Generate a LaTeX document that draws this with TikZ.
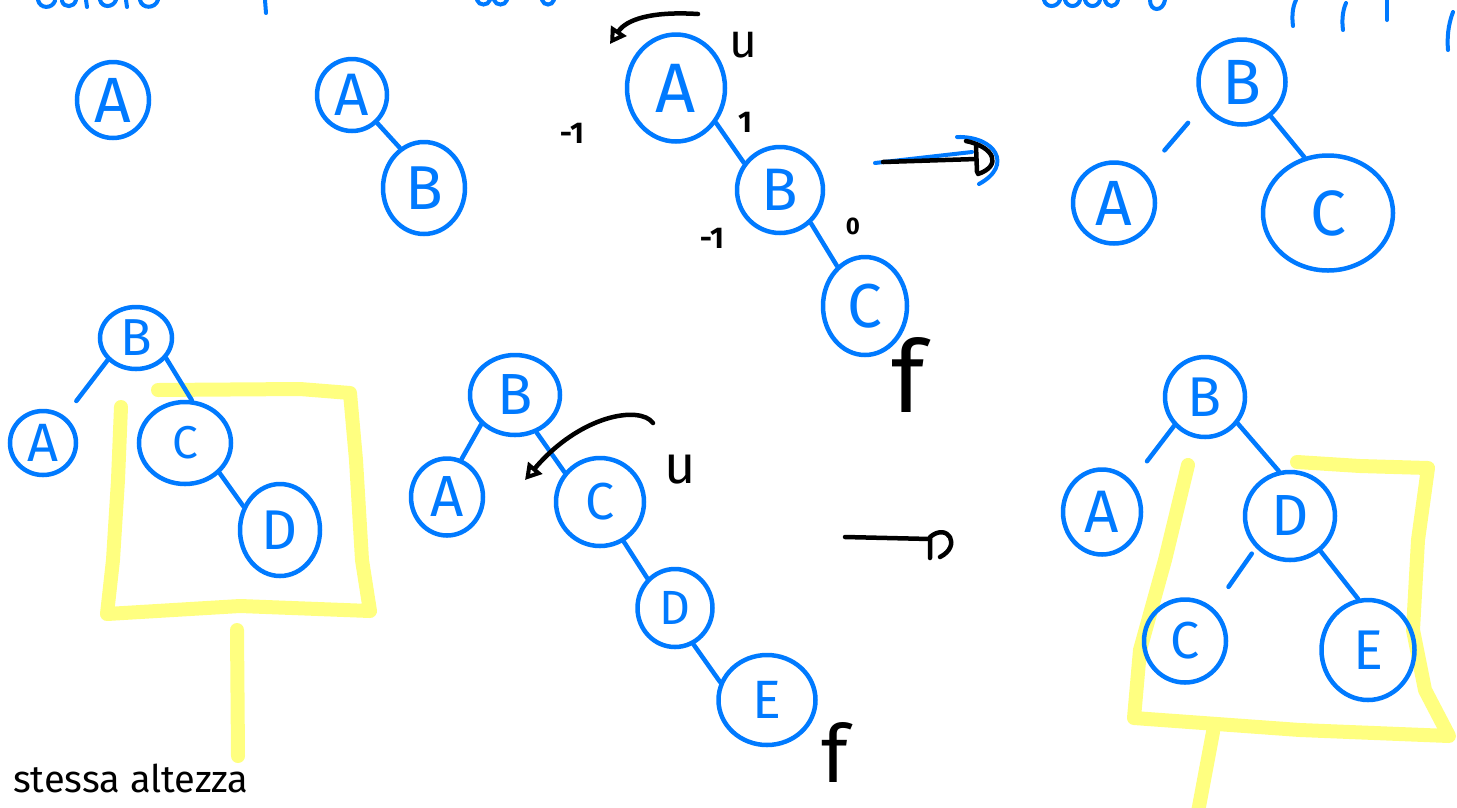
\documentclass[tikz,border=0pt]{standalone}
\usepackage{fontspec}
\setmainfont{Fira Sans}
\usetikzlibrary{shapes.geometric,arrows.meta}
\definecolor{pen}{RGB}{0,122,255}
\definecolor{marker}{RGB}{255,255,128}
\begin{document}
\begin{tikzpicture}[x=1pt,y=-1pt,
  tn/.style 2 args={ellipse,draw=pen,line width=4.5pt,text=pen,inner sep=0pt,
    minimum width=#1pt,minimum height=#2pt},
  fs/.style={font=\fontsize{#1}{#1}\selectfont},
  fsb/.style={font=\fontsize{#1}{#1}\selectfont\bfseries},
  tedge/.style={draw=pen,line width=4.5pt,line cap=round},
  ink/.style={draw=black,line width=4.5pt,line cap=round,line join=round},
  lbl/.style={text=black,inner sep=0pt},
  hl/.style={draw=marker,line width=14pt,line cap=round,line join=round},
  scrap/.style={draw=pen,line width=4pt,line cap=round},
  tip/.style={-{Triangle[open,length=16pt,width=18pt,line width=4pt]}}
]
\fill[white] (0,0) rectangle (1457,807);
\useasboundingbox (0,0) rectangle (1457,807);

% highlighter frames around the subtrees
\draw[hl] (158,390) -- (300,389) -- (350,393) -- (356,460) -- (362,560) -- (370,611)
  -- (240,606) -- (107,614) -- (113,560) -- (118,480) -- (121,407);
\draw[hl] (237,630) -- (238,756);
\draw[hl] (1297,462) -- (1360,466) -- (1428,468) -- (1418,540) -- (1413,630)
  -- (1425,690) -- (1449,736) -- (1300,730) -- (1134,718) -- (1140,650)
  -- (1165,560) -- (1188,465);
\draw[hl] (1213,732) -- (1198,812);

% heading strokes along the top edge
\draw[scrap] (38,0) .. controls (40,9) and (52,9) .. (55,1);
\draw[scrap] (62,1) .. controls (64,8) and (74,8) .. (76,0);
\draw[scrap] (86,0) -- (87,7);
\draw[scrap] (100,0) .. controls (102,8) and (113,8) .. (116,0);
\draw[scrap] (126,0) -- (127,7);
\draw[scrap] (140,0) .. controls (142,9) and (155,9) .. (158,0);
\draw[scrap] (265,0) -- (266,13);
\draw[scrap] (477,0) .. controls (479,6) and (488,6) .. (490,0);
\draw[scrap] (494,0) .. controls (496,6) and (505,6) .. (507,0);
\draw[scrap] (542,0) .. controls (544,6) and (552,6) .. (554,0);
\draw[scrap] (1044,0) .. controls (1046,8) and (1057,8) .. (1060,0);
\draw[scrap] (1065,0) .. controls (1067,8) and (1078,8) .. (1080,0);
\draw[scrap] (1085,0) .. controls (1087,8) and (1098,8) .. (1100,0);
\draw[scrap] (1105,0) .. controls (1107,8) and (1116,8) .. (1118,0);
\draw[scrap] (1150,0) .. controls (1150,12) and (1163,12) .. (1165,0);
\draw[scrap] (1296,0) .. controls (1292,8) and (1292,18) .. (1293,26);
\draw[scrap] (1346,3) .. controls (1342,12) and (1342,22) .. (1343,30);
\draw[scrap] (1387,0) -- (1387,20);
\draw[scrap] (1453,12) .. controls (1448,25) and (1447,38) .. (1448,50);

% tree nodes
\node[tn={72}{76},fs=64] (a1) at (113,100) {A};
\node[tn={70}{72},fs=60] (a2) at (352,95) {A};
\node[tn={82}{92},fs=62] (b2) at (424,188) {B};
\node[tn={98}{107},fs=70] (a3) at (676,88) {A};
\node[tn={86}{86},fs=60] (b3) at (780,190) {B};
\node[tn={84}{98},fs=62] (c3) at (865,306) {C};
\node[tn={87}{85},fs=64] (b4) at (1242,82) {B};
\node[tn={82}{81},fs=64] (a4) at (1114,203) {A};
\node[tn={130}{115},fs=64] (c4) at (1328,213) {C};
\node[tn={72}{62},fs=52] (b5) at (136,338) {B};
\node[tn={66}{64},fs=54] (a5) at (43,443) {A};
\node[tn={92}{82},fs=46] (c5) at (185,443) {C};
\node[tn={80}{92},fs=56] (d5) at (280,530) {D};
\node[tn={90}{80},fs=58] (b6) at (515,395) {B};
\node[tn={72}{77},fs=58] (a6) at (447,497) {A};
\node[tn={88}{88},fs=52] (c6) at (600,502) {C};
\node[tn={75}{78},fs=48] (d6) at (675,608) {D};
\node[tn={97}{90},fs=54] (e6) at (767,700) {E};
\node[tn={80}{80},fs=56] (b7) at (1205,397) {B};
\node[tn={78}{85},fs=60] (a7) at (1102,512) {A};
\node[tn={90}{88},fs=58] (d7) at (1290,516) {D};
\node[tn={82}{83},fs=52] (c7) at (1185,641) {C};
\node[tn={93}{100},fs=56] (e7) at (1368,650) {E};

% tree edges
\draw[tedge] (a2.-48) -- (b2.121);
\draw[tedge] (a3.-41) -- (b3.143);
\draw[tedge] (b3.-47) -- (c3.125);
\draw[tedge,shorten <=23pt,shorten >=30pt] (b4.211) -- (a4.44);
\draw[tedge] (b4.-50) -- (c4.113);
\draw[tedge,shorten >=19pt] (b5.218) -- (a5.51);
\draw[tedge] (b5.-34) -- (c5.81);
\draw[tedge] (c5.-41) -- (d5.147);
\draw[tedge] (b6.221) -- (a6.69);
\draw[tedge] (b6.-60) -- (c6.140);
\draw[tedge] (c6.-59) -- (d6.133);
\draw[tedge] (d6.-63) -- (e6.159);
\draw[tedge,shorten >=25pt] (b7.223) -- (a7.46);
\draw[tedge] (b7.-39) -- (d7.104);
\draw[tedge,shorten <=7pt,shorten >=26pt] (d7.223) -- (c7.49);
\draw[tedge] (d7.-49) -- (e7.101);

% balance factors and markers
\node[lbl,fs=48] (u1) at (743,45) {u};
\node[lbl,fsb=30] (m1) at (572,133) {-1};
\node[lbl,fsb=30] (p1) at (745,122) {1};
\node[lbl,fsb=30] (m2) at (712,238) {-1};
\node[lbl,fsb=24] (z1) at (853,226) {0};
\node[lbl,fs=100] (f1) at (908,375) {f};
\node[lbl,fs=54] (u2) at (680,470) {u};
\node[lbl,fs=80] (f2) at (835,752) {f};
\node[lbl,fs=38,anchor=base west] (note) at (13,792) {stessa altezza};

% rotation arrows
\coordinate (ra1) at (698,14);
\coordinate (ra2) at (610,44);
\draw[ink,tip] (ra1) .. controls (650,11) and (626,20) .. (ra2);
\coordinate (rb1) at (653,423);
\coordinate (rb2) at (525,480);
\draw[ink,tip] (rb1) .. controls (640,405) and (580,415) .. (rb2);

% transformation arrows
\coordinate (s1) at (883,162);
\coordinate (e1) at (976,159);
\draw[scrap] (875,163) -- (972,152);
\draw[scrap] (957,137) .. controls (995,136) and (1014,165) .. (979,184);
\draw[ink] (s1) -- (e1);
\draw[ink] (976,146) -- (977,172) (966,141) .. controls (995,147) and (1002,166) .. (978,174);
\coordinate (s2) at (845,537);
\coordinate (e2) at (930,539);
\draw[ink] (s2) -- (e2);
\draw[ink] (930,558) -- (930,537) .. controls (948,522) and (962,546) .. (940,557);
\end{tikzpicture}
\end{document}
